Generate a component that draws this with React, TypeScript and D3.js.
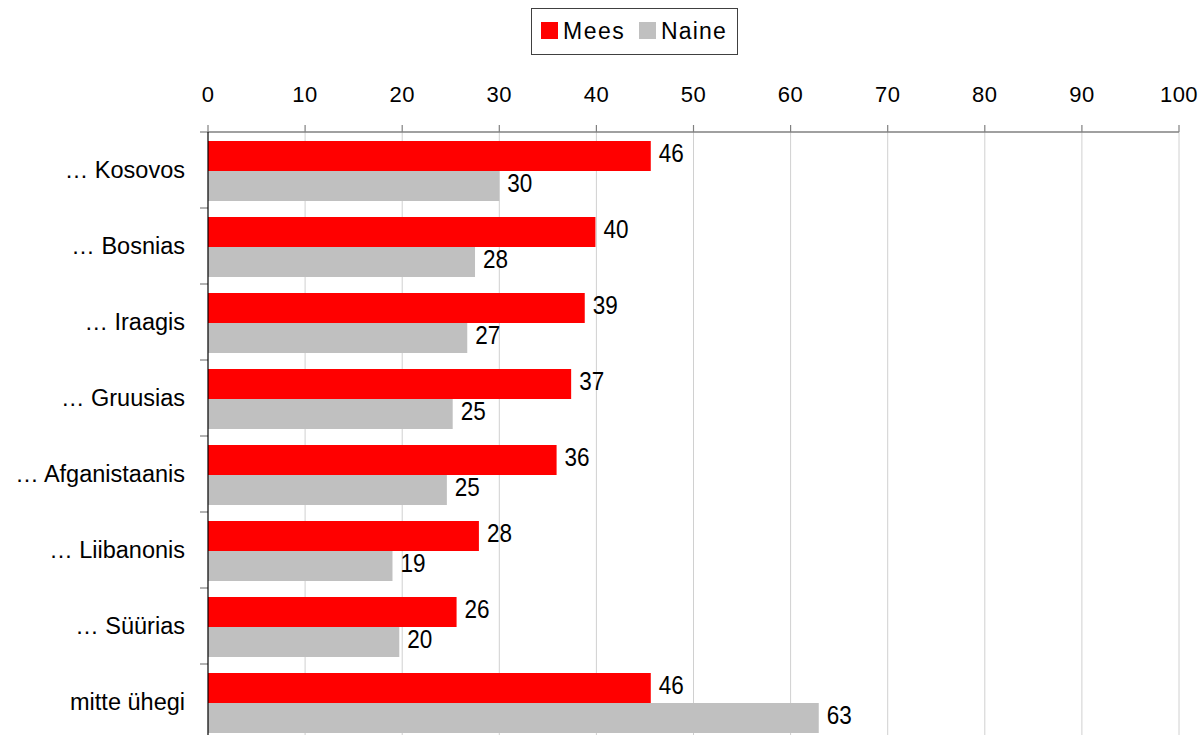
import React from "react";
import * as d3 from "d3";

const categories = ["… Kosovos", "… Bosnias", "… Iraagis", "… Gruusias", "… Afganistaanis", "… Liibanonis", "… Süürias", "mitte ühegi"];
const mees = [45.6, 39.9, 38.8, 37.4, 35.9, 27.9, 25.6, 45.6];
const naine = [30.0, 27.5, 26.7, 25.2, 24.6, 19.0, 19.7, 62.9];
const xTicks = [0, 10, 20, 30, 40, 50, 60, 70, 80, 90, 100];
const seriesNames = ["Mees", "Naine"];
const colors = ["#ff0000", "#c0c0c0"];

export default function App() {
  const W = 1204, H = 735;
  const left = 208, right = 1179, top = 132, step = 76;
  const bottom = top + step * categories.length;
  const x = d3.scaleLinear().domain([0, 100]).range([left, right]);
  const y = d3.scaleBand().domain(categories).range([top, bottom]).paddingInner(0).paddingOuter(0);
  const barH = 30;
  const font = "'Liberation Sans', Arial, sans-serif";
  const valueLabel = (v: number, lx: number, ly: number) => (
    <text transform={`translate(${lx},${ly}) scale(0.9,1)`} fontSize={25} fill="#000">{Math.round(v)}</text>
  );
  return (
    <svg width={W} height={H} style={{ position: "absolute", left: 0, top: 0 }} fontFamily={font}>
      {xTicks.map((t) => (
        <g key={t}>
          {t > 0 && <line x1={x(t)} x2={x(t)} y1={top} y2={bottom} stroke="#d0d0d0" strokeWidth={1} />}
          <line x1={x(t)} x2={x(t)} y1={top - 7} y2={top} stroke="#808080" strokeWidth={1.2} />
          <text x={x(t)} y={101.5} textAnchor="middle" fontSize={22} letterSpacing={0.5} fill="#000">{t}</text>
        </g>
      ))}
      {categories.map((c, i) => {
        const y0 = (y(c) as number) + (step - 2 * barH) / 2 + 1;
        return (
          <g key={c}>
            <rect x={x(0)} y={y0} width={x(mees[i]) - x(0)} height={barH} fill={colors[0]} />
            <rect x={x(0)} y={y0 + barH} width={x(naine[i]) - x(0)} height={barH} fill={colors[1]} />
            {valueLabel(mees[i], x(mees[i]) + 8, y0 + barH / 2 + 5.5)}
            {valueLabel(naine[i], x(naine[i]) + 8, y0 + barH * 1.5 + 5.5)}
            <text x={185} y={(y(c) as number) + step / 2 + 7.5} textAnchor="end" fontSize={23.5} fill="#000">{c}</text>
            <line x1={200} x2={left} y1={y(c) as number} y2={y(c) as number} stroke="#808080" strokeWidth={1.2} />
          </g>
        );
      })}
      <line x1={left} x2={right} y1={top} y2={top} stroke="#808080" strokeWidth={1.5} />
      <line x1={left} x2={left} y1={top} y2={bottom} stroke="#000" strokeWidth={1.2} />
      <g>
        <rect x={531.5} y={8.5} width={206} height={46} fill="#fff" stroke="#404040" strokeWidth={1} />
        <rect x={541} y={22} width={17} height={17} fill={colors[0]} />
        <text x={563} y={38.5} fontSize={23} letterSpacing={1.5} fill="#000">{seriesNames[0]}</text>
        <rect x={639} y={22} width={17} height={17} fill={colors[1]} />
        <text x={661} y={38.5} fontSize={23} letterSpacing={1.2} fill="#000">{seriesNames[1]}</text>
      </g>
    </svg>
  );
}
